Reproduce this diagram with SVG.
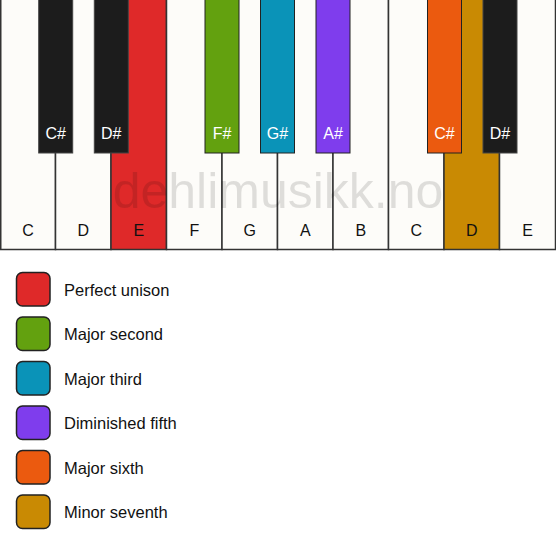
<svg xmlns="http://www.w3.org/2000/svg" width="556" height="550" viewBox="0 0 556 550">
<style>
.w{fill:#fdfcf9;stroke:#333;stroke-width:1.5}
.b{fill:#1c1c1c;stroke:#444;stroke-width:1}
.lw{font-family:"Liberation Sans",Arial,sans-serif;font-size:16px;fill:#111;text-anchor:middle}
.lb{font-family:"Liberation Sans",Arial,sans-serif;font-size:16px;fill:#fff;text-anchor:middle}
.sw{stroke:#222;stroke-width:1.5}
.lg{font-family:"Liberation Sans",Arial,sans-serif;font-size:16.5px;fill:#111}
</style>
<rect width="556" height="550" fill="#fff"/>
<g id="whitekeys">
<g id="w-C1"><rect class="w" x="0.75" y="-1" width="54.75" height="250.5"/><text class="lw" x="28" y="236">C</text></g>
<g id="w-D1"><rect class="w" x="55.5" y="-1" width="55.5" height="250.5"/><text class="lw" x="83.3" y="236">D</text></g>
<g id="w-E1"><rect class="w" x="111" y="-1" width="55.5" height="250.5" style="fill:#df2929"/><text class="lw" x="138.8" y="236">E</text></g>
<g id="w-F1"><rect class="w" x="166.5" y="-1" width="55.5" height="250.5"/><text class="lw" x="194.3" y="236">F</text></g>
<g id="w-G1"><rect class="w" x="222" y="-1" width="55.5" height="250.5"/><text class="lw" x="249.8" y="236">G</text></g>
<g id="w-A1"><rect class="w" x="277.5" y="-1" width="55.5" height="250.5"/><text class="lw" x="305.3" y="236">A</text></g>
<g id="w-B1"><rect class="w" x="333" y="-1" width="55.5" height="250.5"/><text class="lw" x="360.8" y="236">B</text></g>
<g id="w-C2"><rect class="w" x="388.5" y="-1" width="55.5" height="250.5"/><text class="lw" x="416.3" y="236">C</text></g>
<g id="w-D2"><rect class="w" x="444" y="-1" width="55.5" height="250.5" style="fill:#c98a03"/><text class="lw" x="471.8" y="236">D</text></g>
<g id="w-E2"><rect class="w" x="499.5" y="-1" width="56" height="250.5"/><text class="lw" x="527.5" y="236">E</text></g>
</g>
<g id="blackkeys">
<g id="b-Cs1"><rect class="b" x="38.7" y="-1" width="34" height="154"/><text class="lb" x="55.7" y="138.5">C#</text></g>
<g id="b-Ds1"><rect class="b" x="94.3" y="-1" width="34" height="154"/><text class="lb" x="111.3" y="138.5">D#</text></g>
<g id="b-Fs1"><rect class="b" x="205" y="-1" width="34" height="154" style="fill:#63a10f;stroke:#222"/><text class="lb" x="222" y="138.5">F#</text></g>
<g id="b-Gs1"><rect class="b" x="260.5" y="-1" width="34" height="154" style="fill:#0a93b8;stroke:#222"/><text class="lb" x="277.5" y="138.5">G#</text></g>
<g id="b-As1"><rect class="b" x="316" y="-1" width="34" height="154" style="fill:#7f3ded;stroke:#222"/><text class="lb" x="333" y="138.5">A#</text></g>
<g id="b-Cs2"><rect class="b" x="427.5" y="-1" width="34" height="154" style="fill:#eb5a0f;stroke:#222"/><text class="lb" x="444.5" y="138.5">C#</text></g>
<g id="b-Ds2"><rect class="b" x="483" y="-1" width="34" height="154"/><text class="lb" x="500" y="138.5">D#</text></g>
</g>
<text id="watermark" x="278" y="208" font-family="'Liberation Sans',Arial,sans-serif" font-size="50" fill="#000" fill-opacity="0.12" text-anchor="middle">dehlimusikk.no</text>
<g id="legend">
<g id="lg-unison"><rect class="sw" x="16.5" y="272.5" width="33.5" height="33.5" rx="6" fill="#df2929"/><text class="lg" x="64" y="295.5">Perfect unison</text></g>
<g id="lg-second"><rect class="sw" x="16.5" y="317" width="33.5" height="33.5" rx="6" fill="#63a10f"/><text class="lg" x="64" y="340">Major second</text></g>
<g id="lg-third"><rect class="sw" x="16.5" y="361.5" width="33.5" height="33.5" rx="6" fill="#0a93b8"/><text class="lg" x="64" y="384.5">Major third</text></g>
<g id="lg-fifth"><rect class="sw" x="16.5" y="406" width="33.5" height="33.5" rx="6" fill="#7f3ded"/><text class="lg" x="64" y="429">Diminished fifth</text></g>
<g id="lg-sixth"><rect class="sw" x="16.5" y="450.5" width="33.5" height="33.5" rx="6" fill="#eb5a0f"/><text class="lg" x="64" y="473.5">Major sixth</text></g>
<g id="lg-seventh"><rect class="sw" x="16.5" y="495" width="33.5" height="33.5" rx="6" fill="#c98a03"/><text class="lg" x="64" y="518">Minor seventh</text></g>
</g>
</svg>
